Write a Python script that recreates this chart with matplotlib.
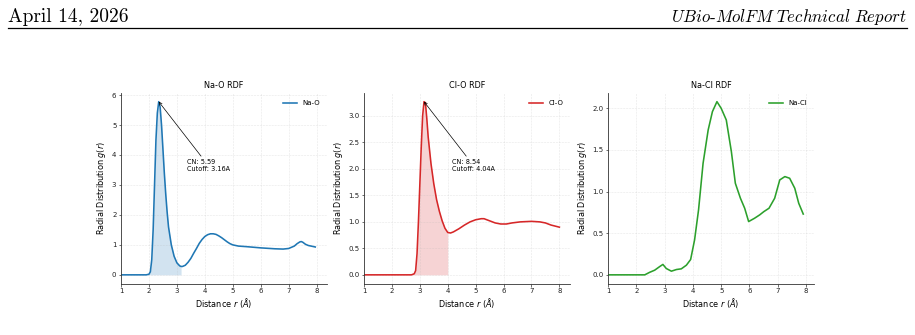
import matplotlib
matplotlib.use("Agg")
import matplotlib.pyplot as plt
from matplotlib.lines import Line2D
import numpy as np

plt.rcParams['mathtext.fontset'] = 'dejavusans'

# ---------------- data ----------------
header_left = "April 14, 2026"
header_right = r"$\mathit{UBio}$-$\mathit{MolFM\ Technical\ Report}$"

na_o_r = [1.0, 1.9, 2.0, 2.05, 2.1, 2.15, 2.2, 2.25, 2.3, 2.35, 2.4, 2.45, 2.5, 2.55,
          2.6, 2.65, 2.7, 2.8, 2.9, 3.0, 3.1, 3.15, 3.2, 3.3, 3.4, 3.5, 3.6, 3.7, 3.8,
          3.9, 4.0, 4.1, 4.2, 4.3, 4.4, 4.5, 4.6, 4.7, 4.8, 4.9, 5.0, 5.2, 5.5, 6.0,
          6.5, 6.8, 7.0, 7.2, 7.3, 7.4, 7.45, 7.5, 7.6, 7.7, 7.8, 7.9, 7.95]
na_o_g = [0.0, 0.0, 0.02, 0.1, 0.5, 1.5, 3.0, 4.5, 5.4, 5.78, 5.6, 5.0, 4.2, 3.4,
          2.7, 2.1, 1.6, 1.0, 0.62, 0.4, 0.3, 0.28, 0.28, 0.32, 0.42, 0.55, 0.72, 0.88, 1.05,
          1.18, 1.28, 1.34, 1.37, 1.37, 1.35, 1.3, 1.24, 1.17, 1.1, 1.04, 1.0, 0.96, 0.94, 0.9,
          0.87, 0.86, 0.88, 0.96, 1.04, 1.1, 1.11, 1.09, 1.02, 0.98, 0.96, 0.94, 0.93]

cl_o_r = [1.0, 2.7, 2.8, 2.85, 2.9, 2.95, 3.0, 3.05, 3.1, 3.15, 3.2, 3.25, 3.3, 3.4,
          3.5, 3.6, 3.7, 3.8, 3.9, 4.0, 4.1, 4.2, 4.4, 4.6, 4.8, 5.0, 5.2, 5.3, 5.5,
          5.7, 5.9, 6.1, 6.3, 6.6, 7.0, 7.3, 7.5, 7.7, 8.0]
cl_o_g = [0.0, 0.0, 0.02, 0.08, 0.4, 1.0, 1.7, 2.4, 3.0, 3.27, 3.25, 2.95, 2.6, 2.1,
          1.72, 1.42, 1.2, 1.02, 0.88, 0.80, 0.79, 0.81, 0.87, 0.94, 1.0, 1.04, 1.06, 1.06, 1.02,
          0.98, 0.96, 0.96, 0.98, 1.0, 1.01, 1.0, 0.98, 0.94, 0.9]

na_cl_r = [1.0, 2.3, 2.47, 2.65, 2.83, 2.94, 3.06, 3.24, 3.42, 3.59, 3.77, 3.92, 4.06,
           4.2, 4.36, 4.54, 4.69, 4.85, 5.0, 5.18, 5.36, 5.5, 5.68, 5.83, 5.97, 6.18,
           6.36, 6.51, 6.69, 6.89, 7.07, 7.25, 7.42, 7.6, 7.74, 7.9]
na_cl_g = [0.0, 0.0, 0.03, 0.056, 0.10, 0.125, 0.076, 0.044, 0.064, 0.072, 0.116, 0.184, 0.42,
           0.78, 1.34, 1.74, 1.96, 2.08, 2.0, 1.86, 1.48, 1.1, 0.92, 0.80, 0.64, 0.68,
           0.72, 0.76, 0.80, 0.92, 1.14, 1.18, 1.16, 1.04, 0.86, 0.73]

titles = ["Na-O RDF", "Cl-O RDF", "Na-Cl RDF"]
labels = ["Na-O", "Cl-O", "Na-Cl"]
colors = ["#1f77b4", "#d62728", "#2ca02c"]
cn_values = [5.59, 8.54, None]
cutoffs = [3.16, 4.04, None]
xmax = [8.37, 8.38, 8.28]

series = [(na_o_r, na_o_g), (cl_o_r, cl_o_g), (na_cl_r, na_cl_g)]

# ---------------- figure ----------------
W, H = 915, 335
fig = plt.figure(figsize=(W / 100, H / 100), dpi=100)

fig.text(8 / W, 1 - 22 / H, header_left, fontsize=14, family='cmr10',
         ha='left', va='baseline')
fig.text(907 / W, 1 - 22 / H, header_right, fontsize=12.2, family='cmr10',
         ha='right', va='baseline', math_fontfamily='cm')
fig.add_artist(Line2D([8 / W, 907 / W], [1 - 28 / H, 1 - 28 / H], color='black',
                      lw=0.9, transform=fig.transFigure))

lefts = [121, 364, 608]
ax_w = 206
ax_top, ax_bot = 93, 283.5
for i, left in enumerate(lefts):
    ax = fig.add_axes([left / W, (H - ax_bot) / H, ax_w / W, (ax_bot - ax_top) / H])
    r = np.array(series[i][0])
    g = np.array(series[i][1])
    ax.plot(r, g, color=colors[i], lw=1.15, label=labels[i])
    if cutoffs[i] is not None:
        m = r <= cutoffs[i]
        ax.fill_between(r[m], 0, g[m], color=colors[i], alpha=0.2, lw=0)
        k = int(np.argmax(g))
        ax.annotate(f"CN: {cn_values[i]:.2f}\nCutoff: {cutoffs[i]:.2f}A",
                    xy=(r[k], g[k]), xytext=(r[k] + 1.0, g[k] * 0.6),
                    fontsize=4.7,
                    arrowprops=dict(arrowstyle='->', color='black', lw=0.5,
                                    mutation_scale=5, shrinkA=0, shrinkB=0))
    ax.set_xlim(1, xmax[i])
    ax.set_xticks(range(1, 9))
    ax.set_title(titles[i], fontsize=5.9, pad=3.5)
    ax.set_xlabel(r"Distance $r$ ($\AA$)", fontsize=5.9, labelpad=1.5)
    ax.set_ylabel(r"Radial Distribution $g(r)$", fontsize=5.9, labelpad=2.5)
    ax.tick_params(labelsize=5.0, length=1.8, width=0.5, pad=1.5, colors='#333333',
                   labelcolor='#222222')
    ax.grid(True, linestyle='--', lw=0.4, alpha=0.3)
    for s in ['top', 'right']:
        ax.spines[s].set_visible(False)
    for s in ['left', 'bottom']:
        ax.spines[s].set_linewidth(0.6)
        ax.spines[s].set_color('#333333')
    ax.legend(loc='upper right', frameon=False, fontsize=5.0, handlelength=2.0,
              borderaxespad=0.6)

fig.savefig("out.png", dpi=100)
